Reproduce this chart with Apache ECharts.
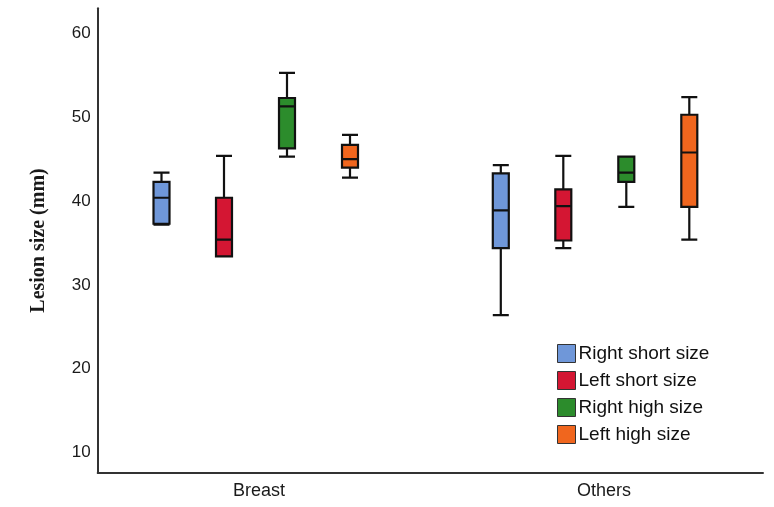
<!DOCTYPE html>
<html>
<head>
<meta charset="utf-8">
<script src="https://cdn.jsdelivr.net/npm/echarts@6/dist/echarts.min.js"></script>
<style>
html,body{margin:0;padding:0;background:#fff;}
#chart{width:774px;height:507px;}
</style>
</head>
<body>
<div id="chart"></div>
<script>
// ---- Data ----
const categories = ['Breast', 'Others'];
const seriesNames = ['Right short size', 'Left short size', 'Right high size', 'Left high size'];
// [min, Q1, median, Q3, max] per category
const rightShort = [[37.2, 37.3, 40.4, 42.3, 43.4], [26.4, 34.4, 38.9, 43.3, 44.3]];
const leftShort  = [[33.4, 33.4, 35.4, 40.4, 45.4], [34.4, 35.3, 39.4, 41.4, 45.4]];
const rightHigh  = [[45.3, 46.3, 51.3, 52.3, 55.3], [39.3, 42.3, 43.4, 45.3, 45.3]];
const leftHigh   = [[42.8, 44.0, 45.0, 46.7, 47.9], [35.4, 39.3, 45.8, 50.3, 52.4]];
const yTicks = [10, 20, 30, 40, 50, 60];

const allSeries = [rightShort, leftShort, rightHigh, leftHigh];
const colors = ['#6f97d9', '#d41633', '#2c8c2c', '#f0661e'];

// ---- Layout ----
const yMin = 7.6, yMax = 63;
const gridTop = 8.3, gridBottom = 34.3;
// per-series placement grids (box centres for Breast group; Others group one groupDist further)
const boxCentres = [161.5, 224, 287, 350];
const groupDist = 339.3;

const grids = [{ left: 97.7, right: 11, top: gridTop, bottom: gridBottom }];
const xAxes = [{
  type: 'category', gridIndex: 0, data: categories,
  axisLine: { lineStyle: { color: '#333', width: 2 } },
  axisTick: { show: false },
  axisLabel: { show: false }
}];
const yAxes = [{
  type: 'value', gridIndex: 0, min: yMin, max: yMax,
  axisLine: { show: true, lineStyle: { color: '#333', width: 2 } },
  axisTick: { show: false },
  splitLine: { show: false },
  axisLabel: {
    color: '#1a1a1a', fontSize: 17, fontFamily: 'Liberation Sans, Arial', margin: 7,
    showMinLabel: false, showMaxLabel: false,
    formatter: v => (Math.abs(v - Math.round(v)) < 1e-6 && yTicks.indexOf(Math.round(v)) >= 0) ? String(v) : ''
  },
  name: 'Lesion size (mm)', nameLocation: 'middle', nameGap: 49,
  nameTextStyle: { fontFamily: 'Liberation Serif, Times New Roman', fontWeight: 'bold', fontSize: 20, color: '#1a1a1a' }
}];
const series = [];
allSeries.forEach((d, i) => {
  grids.push({ left: boxCentres[i], width: groupDist, top: gridTop, bottom: gridBottom });
  xAxes.push({ type: 'category', gridIndex: i + 1, data: categories, boundaryGap: false, show: false });
  yAxes.push({ type: 'value', gridIndex: i + 1, min: yMin, max: yMax, show: false });
  series.push({
    name: seriesNames[i], type: 'boxplot', xAxisIndex: i + 1, yAxisIndex: i + 1,
    boxWidth: [16, 16],
    data: d,
    itemStyle: { color: colors[i], borderColor: '#111', borderWidth: 2.2 },
    emphasis: { disabled: true }
  });
});
// label axis for category names
grids.push({ left: 259, width: 345, top: gridTop, bottom: gridBottom });
xAxes.push({
  type: 'category', gridIndex: 5, data: categories, boundaryGap: false,
  axisLine: { show: false }, axisTick: { show: false },
  axisLabel: { color: '#1a1a1a', fontSize: 18, fontFamily: 'Liberation Sans, Arial', margin: 9 }
});
yAxes.push({ type: 'value', gridIndex: 5, min: yMin, max: yMax, show: false });

const chart = echarts.init(document.getElementById('chart'), null, { renderer: 'canvas' });
chart.setOption({
  animation: false,
  backgroundColor: '#fff',
  color: colors,
  grid: grids,
  xAxis: xAxes,
  yAxis: yAxes,
  legend: {
    orient: 'vertical', left: 557, top: 344, padding: 0,
    itemWidth: 18, itemHeight: 18, itemGap: 8,
    icon: 'rect',
    data: seriesNames.map((n, i) => ({ name: n, itemStyle: { color: colors[i], borderColor: '#333', borderWidth: 1 } })),
    textStyle: { fontSize: 19, color: '#111', fontFamily: 'Liberation Sans, Arial', padding: [0, 0, 0, -2] }
  },
  series: series
});
</script>
</body>
</html>
